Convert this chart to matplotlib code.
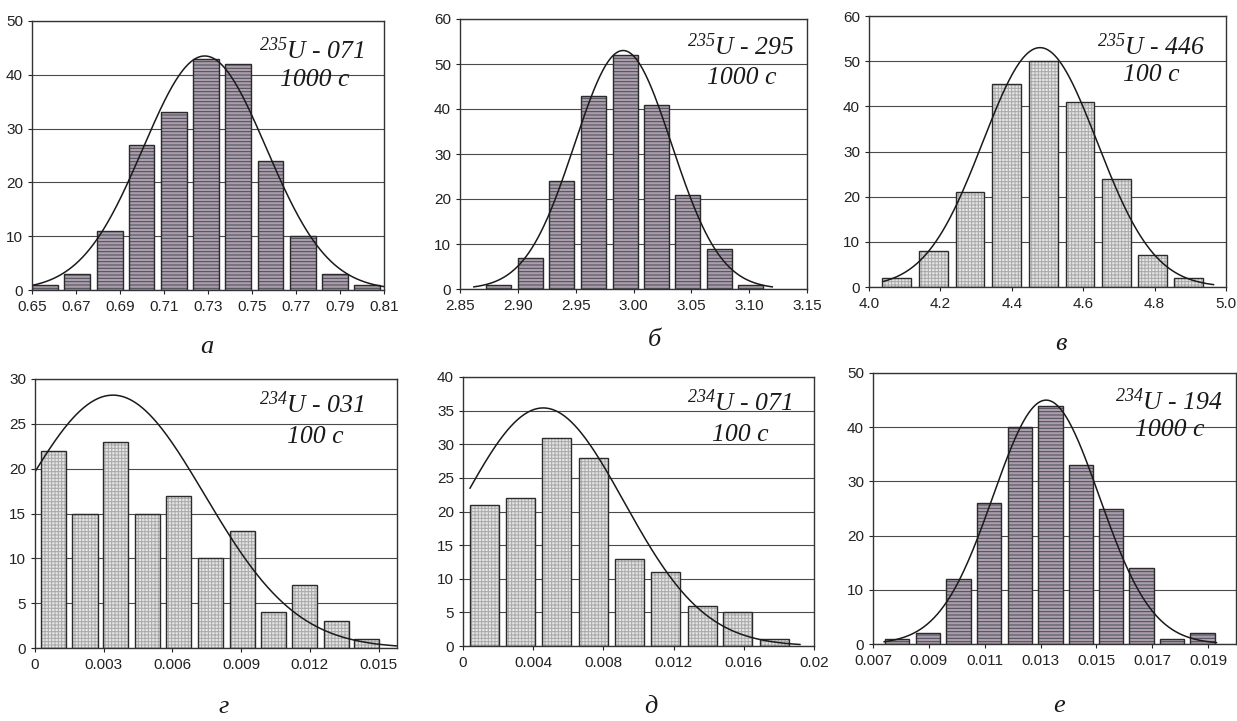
import numpy as np
import matplotlib
matplotlib.use('Agg')
import matplotlib.pyplot as plt

plt.rcParams['font.family'] = ['Liberation Sans', 'DejaVu Sans']
plt.rcParams['mathtext.fontset'] = 'custom'
plt.rcParams['mathtext.rm'] = 'Liberation Serif:italic'
plt.rcParams['mathtext.it'] = 'Liberation Serif:italic'
plt.rcParams['hatch.linewidth'] = 0.7

# --- данные ---
a_x = [0.656, 0.6706, 0.6853, 0.6998, 0.7145, 0.7292, 0.7438, 0.7584, 0.7731, 0.7877, 0.8023]
a_n = [1, 3, 11, 27, 33, 43, 42, 24, 10, 3, 1]

b_x = [2.8835, 2.911, 2.938, 2.9656, 2.993, 3.020, 3.047, 3.074, 3.101]
b_n = [1, 7, 24, 43, 52, 41, 21, 9, 1]

v_x = [4.0775, 4.18, 4.283, 4.386, 4.488, 4.591, 4.694, 4.795, 4.896]
v_n = [2, 8, 21, 45, 50, 41, 24, 7, 2]

g_x = [0.0008, 0.00218, 0.00353, 0.0049, 0.00628, 0.00767, 0.00904, 0.0104, 0.01175, 0.01315, 0.01448]
g_n = [22, 15, 23, 15, 17, 10, 13, 4, 7, 3, 1]

d_x = [0.00122, 0.0033, 0.00535, 0.00743, 0.00947, 0.01152, 0.01362, 0.01566, 0.01775]
d_n = [21, 22, 31, 28, 13, 11, 6, 5, 1]

e_x = [0.00787, 0.00898, 0.01006, 0.01115, 0.01226, 0.01336, 0.01445, 0.01553, 0.01662, 0.0177, 0.0188]
e_n = [1, 2, 12, 26, 40, 44, 33, 25, 14, 1, 2]

# параметры нормальной кривой: среднее, сигма, максимум
a_fit = (0.7285, 0.028, 43.5)
b_fit = (2.991, 0.042, 53.0)
v_fit = (4.479, 0.160, 53.0)
g_fit = (0.0034, 0.0040, 28.2)
d_fit = (0.00457, 0.0046, 35.4)
e_fit = (0.0132, 0.0019, 45.0)

a_xt = ['0.65', '0.67', '0.69', '0.71', '0.73', '0.75', '0.77', '0.79', '0.81']
b_xt = ['2.85', '2.90', '2.95', '3.00', '3.05', '3.10', '3.15']
v_xt = ['4.0', '4.2', '4.4', '4.6', '4.8', '5.0']
g_xt = ['0', '0.003', '0.006', '0.009', '0.012', '0.015']
d_xt = ['0', '0.004', '0.008', '0.012', '0.016', '0.02']
e_xt = ['0.007', '0.009', '0.011', '0.013', '0.015', '0.017', '0.019']

labels = ['а', 'б', 'в', 'г', 'д', 'е']
isotopes = ['235', '235', '235', '234', '234', '234']
samples = ['071', '295', '446', '031', '071', '194']
times = ['1000 с', '1000 с', '100 с', '100 с', '100 с', '1000 с']

# ось в пикселях (left, top, right, bottom), ширина столбца, пределы, стиль
panels = [
    dict(x=a_x, n=a_n, fit=a_fit, xt=a_xt, box=(32, 21, 384, 290), w=0.0117,
         xlim=(0.65, 0.81), cr=(0.65, 0.81), ymax=50, ystep=10, style='color',
         sup=(0.645, 0.891), t2=(0.704, 0.78), lab=(207, 347)),
    dict(x=b_x, n=b_n, fit=b_fit, xt=b_xt, box=(460, 19, 807, 289), w=0.0215,
         xlim=(2.85, 3.15), cr=(2.862, 3.12), ymax=60, ystep=10, style='color',
         sup=(0.655, 0.896), t2=(0.712, 0.781), lab=(654, 340)),
    dict(x=v_x, n=v_n, fit=v_fit, xt=v_xt, box=(869, 16, 1226, 287), w=0.081,
         xlim=(4.0, 5.0), cr=(4.04, 4.965), ymax=60, ystep=10, style='gray',
         sup=(0.639, 0.886), t2=(0.711, 0.782), lab=(1061, 344)),
    dict(x=g_x, n=g_n, fit=g_fit, xt=g_xt, box=(35, 379, 397, 648), w=0.0011,
         xlim=(0.0, 0.0158), cr=(0.0, 0.0158), ymax=30, ystep=5, style='gray',
         sup=(0.62, 0.903), t2=(0.696, 0.784), lab=(224, 707)),
    dict(x=d_x, n=d_n, fit=d_fit, xt=d_xt, box=(463, 377, 814, 646), w=0.00165,
         xlim=(0.0, 0.02), cr=(0.0004, 0.0192), ymax=40, ystep=5, style='gray',
         sup=(0.639, 0.903), t2=(0.709, 0.784), lab=(651, 707)),
    dict(x=e_x, n=e_n, fit=e_fit, xt=e_xt, box=(873, 373, 1236, 644), w=0.00087,
         xlim=(0.007, 0.020), cr=(0.0074, 0.0193), ymax=50, ystep=10, style='color',
         sup=(0.668, 0.893), t2=(0.722, 0.79), lab=(1059, 706)),
]

W, H = 1237, 721
fig = plt.figure(figsize=(W / 100, H / 100), dpi=100)

serif_it = dict(family='Liberation Serif', style='italic')

for i, p in enumerate(panels):
    l, t, r, b = p['box']
    ax = fig.add_axes([l / W, 1 - b / H, (r - l) / W, (b - t) / H])
    ax.set_axisbelow(True)

    if p['style'] == 'color':
        face, hcol, hatch = '#ab9eaa', '#474958', '-----'
    else:
        face, hcol, hatch = '#e4e4e4', '#a9a9a9', '+++++'
    ax.bar(p['x'], p['n'], width=p['w'], color=face, linewidth=0)
    ax.bar(p['x'], p['n'], width=p['w'], fill=False, hatch=hatch,
           edgecolor=hcol, linewidth=0.01)
    ax.bar(p['x'], p['n'], width=p['w'], fill=False,
           edgecolor='#2b2b2b', linewidth=1.0)

    mu, sg, pk = p['fit']
    xx = np.linspace(p['cr'][0], p['cr'][1], 300)
    ax.plot(xx, pk * np.exp(-0.5 * ((xx - mu) / sg) ** 2), color='#1a1a1a', lw=1.1)

    ax.set_xlim(*p['xlim'])
    ax.set_ylim(0, p['ymax'])
    ax.set_xticks([float(s) for s in p['xt']])
    ax.set_xticklabels(p['xt'])
    ax.set_yticks(np.arange(0, p['ymax'] + 1, p['ystep']))
    ax.yaxis.grid(True, color='#4a4a4a', lw=0.8)
    ax.tick_params(labelsize=11, colors='#222222', length=3, width=0.8)
    ax.tick_params(axis='x', pad=4)
    for s in ax.spines.values():
        s.set_color('#333333')
        s.set_linewidth(1.0)

    ax.text(p['sup'][0], p['sup'][1], r'$^{%s}$U - %s' % (isotopes[i], samples[i]),
            transform=ax.transAxes, fontsize=18.5, va='center', ha='left',
            color='#1a1a1a', **serif_it)
    ax.text(p['t2'][0], p['t2'][1], times[i], transform=ax.transAxes,
            fontsize=18.5, va='center', ha='left', color='#1a1a1a', **serif_it)

    fig.text(p['lab'][0] / W, 1 - p['lab'][1] / H, labels[i], fontsize=19,
             ha='center', va='center', color='#1a1a1a', **serif_it)

fig.savefig('out.png', dpi=100)
